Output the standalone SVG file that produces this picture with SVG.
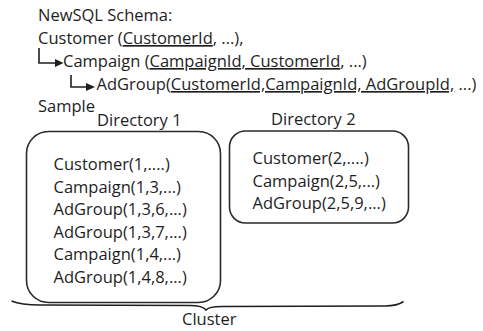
<svg xmlns="http://www.w3.org/2000/svg" width="483" height="331" viewBox="0 0 483 331">
<style>
text{font-family:"Open Sans","Noto Sans",sans-serif;font-size:16.5px;fill:#1e1e1e}
.u{text-decoration:underline}
.box{fill:none;stroke:#2a2a2a;stroke-width:1.6}
.conn{fill:none;stroke:#1e1e1e;stroke-width:1.6}
.head{fill:#1e1e1e}
</style>
<rect width="483" height="331" fill="#ffffff"/>
<g id="schema">
<text x="38" y="21">NewSQL Schema:</text>
<text x="38" y="44">Customer (<tspan class="u">CustomerId</tspan>, ...),</text>
<text x="63" y="67">Campaign (<tspan class="u">CampaignId, CustomerId</tspan>, ...)</text>
<text x="96.5" y="90">AdGroup(<tspan class="u">CustomerId,CampaignId, AdGroupId,</tspan> ...)</text>
<text x="38" y="112">Sample</text>
</g>
<g id="connectors">
<path class="conn" d="M39,48 V63 H56"/>
<polygon class="head" points="55,59 63.5,63 55,67"/>
<path class="conn" d="M71,75 V87 H87"/>
<polygon class="head" points="86,83 95,87 86,91"/>
</g>
<g id="directory1">
<text x="97" y="126">Directory 1</text>
<rect class="box" x="26.5" y="131.5" width="194" height="171" rx="22"/>
<text x="53.5" y="170">Customer(1,....)</text>
<text x="53.5" y="192.5">Campaign(1,3,...)</text>
<text x="53.5" y="215">AdGroup(1,3,6,...)</text>
<text x="53.5" y="237.5">AdGroup(1,3,7,...)</text>
<text x="53.5" y="260">Campaign(1,4,...)</text>
<text x="53.5" y="282.5">AdGroup(1,4,8,...)</text>
</g>
<g id="directory2">
<text x="271" y="125">Directory 2</text>
<rect class="box" x="229.5" y="131" width="179" height="92" rx="16"/>
<text x="252.5" y="164">Customer(2,....)</text>
<text x="252.5" y="186.5">Campaign(2,5,...)</text>
<text x="252.5" y="209">AdGroup(2,5,9,...)</text>
</g>
<g id="cluster">
<path class="conn" d="M11.5,301 C20,304.5 30,305 40,305 L190,305.5 C200,305.5 204,307.5 206,310 C208,307.5 213,306.5 222,306.5 L385,306 C395,306 400,304 403.5,301.5"/>
<text x="182" y="325">Cluster</text>
</g>
</svg>
